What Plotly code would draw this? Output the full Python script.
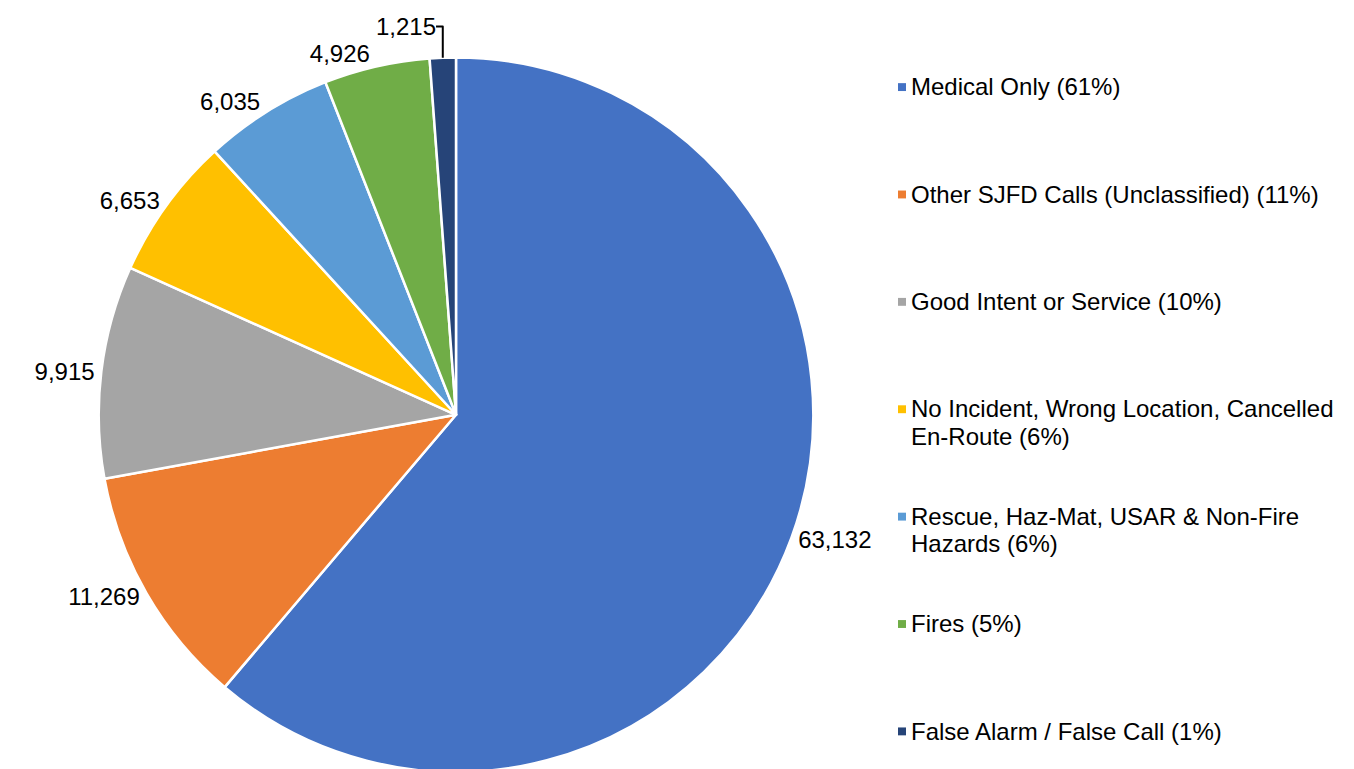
import plotly.graph_objects as go

categories = [
    "Medical Only (61%)",
    "Other SJFD Calls (Unclassified) (11%)",
    "Good Intent or Service (10%)",
    "No Incident, Wrong Location, Cancelled<br>En-Route (6%)",
    "Rescue, Haz-Mat, USAR & Non-Fire<br>Hazards (6%)",
    "Fires (5%)",
    "False Alarm / False Call (1%)",
]
values = [63132, 11269, 9915, 6653, 6035, 4926, 1215]
colors = ["#4472C4", "#ED7D31", "#A5A5A5", "#FFC000", "#5B9BD5", "#70AD47", "#264478"]

W, H = 1354, 769
OFF = 8  # page body margin offset
FONT = "Liberation Sans, Arial, sans-serif"
FS = 24


def px(x):
    return (x - OFF) / W


def py(y):
    return 1 - (y - OFF) / H


fig = go.Figure()
fig.add_trace(go.Pie(
    labels=[c.replace("<br>", " ") for c in categories],
    values=values,
    sort=False,
    direction="clockwise",
    rotation=0,
    marker=dict(colors=colors, line=dict(color="white", width=2.5)),
    textposition="outside",
    texttemplate="%{value:,}",
    textfont=dict(family=FONT, size=FS, color="black"),
    showlegend=False,
    hoverinfo="label+value",
    domain=dict(x=[px(94), px(818)], y=[py(772), py(48)]),
))

# Legend drawn as text + colored squares
shapes = []
annotations = []
y0 = 78.0
step = 108.8
line_gap = 28
for i, (lab, col) in enumerate(zip(categories, colors)):
    yc = y0 + step * i
    shapes.append(dict(
        type="rect", xref="paper", yref="paper",
        x0=px(898), x1=px(906),
        y0=py(yc + 4), y1=py(yc - 4),
        fillcolor=col, line=dict(width=0),
    ))
    for j, part in enumerate(lab.split("<br>")):
        annotations.append(dict(
            text=part, xref="paper", yref="paper",
            x=px(909), y=py(yc + j * line_gap - 16),
            xanchor="left", yanchor="top", align="left",
            showarrow=False,
            font=dict(family=FONT, size=FS, color="black"),
        ))

fig.update_layout(
    width=W, height=H,
    margin=dict(l=0, r=0, t=0, b=0),
    paper_bgcolor="white",
    plot_bgcolor="white",
    shapes=shapes,
    annotations=annotations,
)

fig.write_html("out.html")
